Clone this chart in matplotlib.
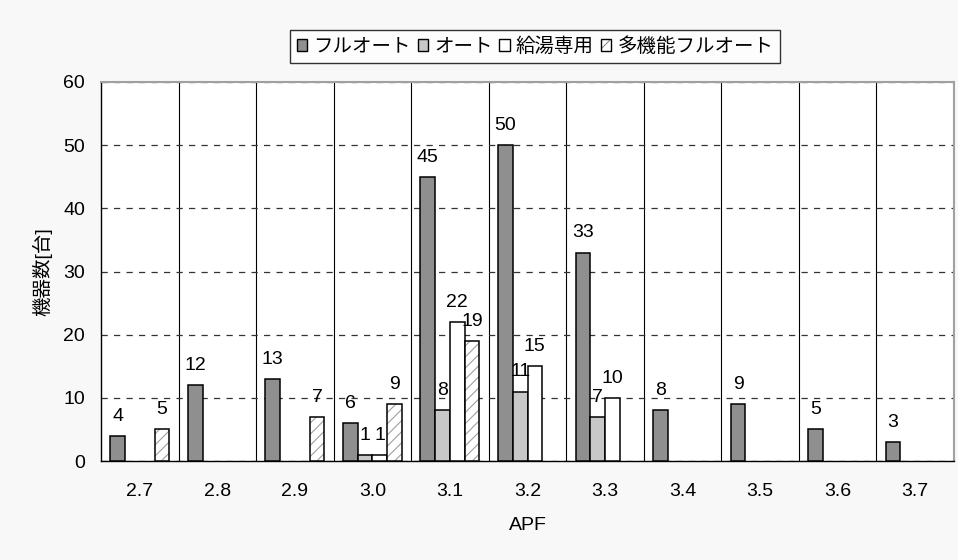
import numpy as np
import matplotlib
matplotlib.use("Agg")
import matplotlib.pyplot as plt
from matplotlib.patches import Patch
from matplotlib.legend_handler import HandlerTuple

plt.rcParams['font.family'] = ['Liberation Sans', 'Noto Sans CJK JP', 'DejaVu Sans']
plt.rcParams['hatch.linewidth'] = 0.8

categories = ['2.7', '2.8', '2.9', '3.0', '3.1', '3.2', '3.3', '3.4', '3.5', '3.6', '3.7']
series_names = ['フルオート', 'オート', '給湯専用', '多機能フルオート']
full_auto = [4, 12, 13, 6, 45, 50, 33, 8, 9, 5, 3]
auto = [0, 0, 0, 1, 8, 11, 7, 0, 0, 0, 0]
kyuto = [0, 0, 0, 1, 22, 15, 10, 0, 0, 0, 0]
multi_full_auto = [5, 0, 7, 9, 19, 0, 0, 0, 0, 0, 0]
y_ticks = [0, 10, 20, 30, 40, 50, 60]

series = [full_auto, auto, kyuto, multi_full_auto]
faces = ['#8f8f8f', '#c8c8c8', '#ffffff', '#ffffff']
hatches = [None, None, None, '///']
FS = 14

fig = plt.figure(figsize=(9.58, 5.6), dpi=100, facecolor='#f8f8f8')
ax = fig.add_axes([101/958, 1-461/560, (954-101)/958, (461-82)/560])
ax.set_facecolor('white')

x = np.arange(len(categories))
w = 0.19
handles = []
for i, (vals, fc, h) in enumerate(zip(series, faces, hatches)):
    vals = np.array(vals, dtype=float)
    m = vals > 0
    xs = x[m] + (i - 1.5) * w
    if h:
        ax.bar(xs, vals[m], width=w, color=fc, edgecolor='#a0a0a0', hatch=h, linewidth=0, zorder=3)
        ax.bar(xs, vals[m], width=w, facecolor='none', edgecolor='black', linewidth=1.1, zorder=4)
        handles.append((Patch(facecolor='white', edgecolor='#909090', hatch='//', linewidth=0),
                        Patch(facecolor='none', edgecolor='black', linewidth=1.0)))
    else:
        ax.bar(xs, vals[m], width=w, color=fc, edgecolor='black', linewidth=1.1, zorder=3)
        handles.append(Patch(facecolor=fc, edgecolor='black', linewidth=1.0))
    for xv, v in zip(xs, vals[m]):
        ax.annotate(f'{int(v)}', (xv, v), xytext=(0, 8), textcoords='offset points',
                    ha='center', va='bottom', fontsize=FS, zorder=5)

ax.set_xlim(-0.5, len(categories) - 0.5)
ax.set_ylim(0, 60)
ax.set_yticks(y_ticks)
ax.set_xticks(x)
ax.set_xticklabels(categories)
ax.set_xticks(np.arange(0.5, len(categories) - 1, 1), minor=True)
ax.tick_params(axis='x', which='both', length=0, pad=16, labelsize=FS)
ax.tick_params(axis='y', length=0, pad=11.5, labelsize=FS)

ax.grid(axis='x', which='minor', color='black', linewidth=0.8, zorder=1)
ax.grid(axis='y', which='major', color='#333333', linewidth=0.9, linestyle=(0, (5, 5)), zorder=1)
ax.set_axisbelow(True)

for s in ['top', 'right']:
    ax.spines[s].set_color('#a0a0a0')
    ax.spines[s].set_linewidth(1.5)
for s in ['left', 'bottom']:
    ax.spines[s].set_color('black')
    ax.spines[s].set_linewidth(1.0)

ax.set_ylabel('機器数[台]', fontsize=FS, va='center')
ax.yaxis.set_label_coords(-0.069, 0.5)
ax.set_xlabel('APF', fontsize=FS, va='center')
ax.xaxis.set_label_coords(0.5, -0.17)

leg = fig.legend(handles, series_names, loc='center', bbox_to_anchor=(535/958, 1-46.5/560),
                 ncol=4, fontsize=FS, frameon=True, fancybox=False, edgecolor='black',
                 handlelength=0.55, handleheight=0.55, handletextpad=0.3, columnspacing=0.35,
                 borderpad=0.35, borderaxespad=0,
                 handler_map={tuple: HandlerTuple(ndivide=1, pad=0)})
leg.get_frame().set_linewidth(1.0)

fig.savefig('out.png', dpi=100, facecolor=fig.get_facecolor())
